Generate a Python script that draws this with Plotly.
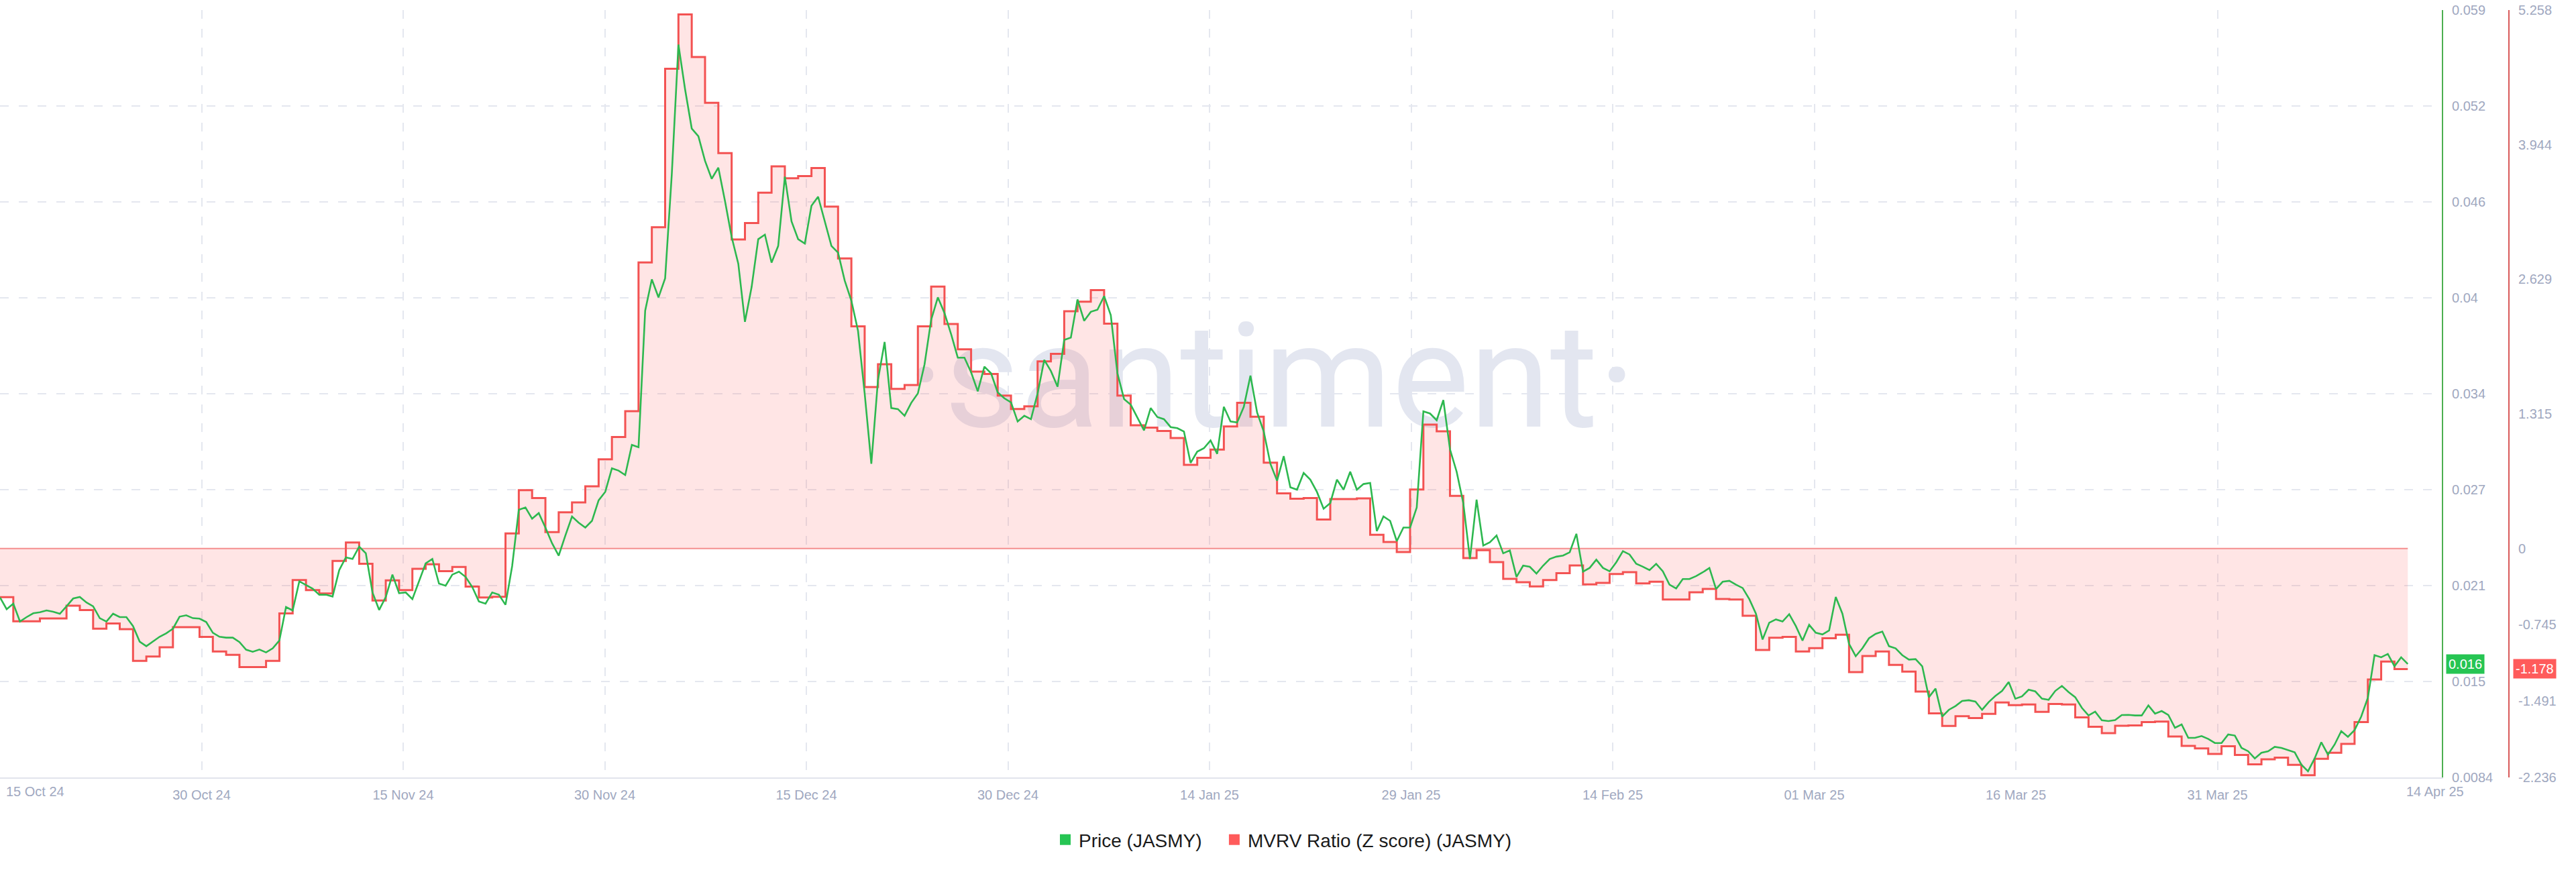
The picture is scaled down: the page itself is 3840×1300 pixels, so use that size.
import numpy as np
import pandas as pd
import plotly.graph_objects as go

# ---------------- data ----------------
START = "2024-10-15"
PRICE_STEP_HOURS = 12  # price sampled every 12 hours
MVRV_STEP_DAYS = 1     # MVRV z-score is daily

PRICE = [
    0.02022, 0.01945, 0.01981, 0.01864, 0.01893, 0.01918, 0.01925, 0.01937, 0.01928, 0.01915,
    0.01964, 0.02015, 0.02025, 0.01989, 0.01964, 0.01886, 0.01864, 0.01915, 0.01893, 0.01893,
    0.01834, 0.01732, 0.01702, 0.01732, 0.01764, 0.01787, 0.01817, 0.01896, 0.01905, 0.01886,
    0.01883, 0.01861, 0.01790, 0.01764, 0.01758, 0.01758, 0.01729, 0.01679, 0.01665, 0.01680,
    0.01661, 0.01688, 0.01739, 0.01959, 0.01937, 0.02128, 0.02103, 0.02080, 0.02040, 0.02040,
    0.02028, 0.02202, 0.02285, 0.02275, 0.02356, 0.02312, 0.02055, 0.01940, 0.02025, 0.02172,
    0.02050, 0.02055, 0.02011, 0.02128, 0.02246, 0.02275, 0.02113, 0.02099, 0.02172, 0.02191,
    0.02157, 0.02091, 0.01996, 0.01981, 0.02055, 0.02040, 0.01974, 0.02228, 0.02598, 0.02613,
    0.02539, 0.02576, 0.02481, 0.02378, 0.02297, 0.02429, 0.02554, 0.02513, 0.02481, 0.02525,
    0.02660, 0.02716, 0.02870, 0.02855, 0.02826, 0.03024, 0.03009, 0.03905, 0.04111, 0.03993,
    0.04118, 0.04801, 0.05653, 0.05359, 0.05102, 0.05051, 0.04889, 0.04772, 0.04845, 0.04625,
    0.04390, 0.04214, 0.03832, 0.04060, 0.04375, 0.04405, 0.04221, 0.04331, 0.04786, 0.04493,
    0.04375, 0.04346, 0.04595, 0.04654, 0.04493, 0.04331, 0.04287, 0.04103, 0.03971, 0.03773,
    0.03362, 0.02900, 0.03450, 0.03700, 0.03266, 0.03259, 0.03215, 0.03300, 0.03362, 0.03553,
    0.03846, 0.03993, 0.03890, 0.03751, 0.03597, 0.03597, 0.03501, 0.03376, 0.03538, 0.03494,
    0.03369, 0.03330, 0.03303, 0.03178, 0.03215, 0.03193, 0.03362, 0.03582, 0.03509, 0.03406,
    0.03714, 0.03729, 0.03979, 0.03839, 0.03898, 0.03912, 0.04001, 0.03876, 0.03494, 0.03325,
    0.03288, 0.03200, 0.03119, 0.03266, 0.03207, 0.03193, 0.03141, 0.03134, 0.03112, 0.02906,
    0.02980, 0.03002, 0.03053, 0.02965, 0.03274, 0.03178, 0.03171, 0.03274, 0.03479, 0.03237,
    0.03112, 0.02900, 0.02789, 0.02950, 0.02745, 0.02730, 0.02840, 0.02796, 0.02715, 0.02605,
    0.02642, 0.02796, 0.02730, 0.02848, 0.02730, 0.02767, 0.02774, 0.02458, 0.02554, 0.02525,
    0.02392, 0.02481, 0.02481, 0.02613, 0.03244, 0.03230, 0.03186, 0.03318, 0.02995, 0.02848,
    0.02642, 0.02275, 0.02664, 0.02363, 0.02385, 0.02429, 0.02312, 0.02331, 0.02157, 0.02231,
    0.02223, 0.02179, 0.02231, 0.02275, 0.02290, 0.02297, 0.02319, 0.02440, 0.02192, 0.02216,
    0.02270, 0.02216, 0.02194, 0.02253, 0.02326, 0.02304, 0.02243, 0.02224, 0.02202, 0.02243,
    0.02194, 0.02106, 0.02081, 0.02143, 0.02143, 0.02162, 0.02187, 0.02216, 0.02077, 0.02125,
    0.02131, 0.02106, 0.02084, 0.02011, 0.01915, 0.01746, 0.01856, 0.01878, 0.01864, 0.01912,
    0.01834, 0.01739, 0.01842, 0.01790, 0.01779, 0.01805, 0.02025, 0.01915, 0.01717, 0.01636,
    0.01688, 0.01754, 0.01783, 0.01798, 0.01702, 0.01688, 0.01643, 0.01614, 0.01617, 0.01570,
    0.01367, 0.01423, 0.01240, 0.01284, 0.01309, 0.01342, 0.01347, 0.01338, 0.01284, 0.01335,
    0.01375, 0.01408, 0.01467, 0.01357, 0.01372, 0.01416, 0.01405, 0.01357, 0.01350, 0.01408,
    0.01441, 0.01401, 0.01367, 0.01297, 0.01247, 0.01272, 0.01215, 0.01210, 0.01217, 0.01250,
    0.01251, 0.01247, 0.01247, 0.01313, 0.01259, 0.01276, 0.01250, 0.01166, 0.01188, 0.01100,
    0.01100, 0.01112, 0.01093, 0.01066, 0.01066, 0.01122, 0.01115, 0.01034, 0.01012, 0.00965,
    0.01002, 0.01012, 0.01041, 0.01034, 0.01019, 0.01005, 0.00924, 0.00880, 0.00965, 0.01071,
    0.00990, 0.01056, 0.01144, 0.01107, 0.01151, 0.01240, 0.01364, 0.01643, 0.01629, 0.01651,
    0.01570, 0.01629, 0.01585,
]

MVRV = [
    -0.476, -0.712, -0.712, -0.684, -0.684, -0.559, -0.602, -0.784, -0.733, -0.788,
    -1.098, -1.056, -0.965, -0.768, -0.768, -0.864, -1.006, -1.039, -1.159, -1.159,
    -1.098, -0.635, -0.308, -0.406, -0.439, -0.122, 0.059, -0.149, -0.509, -0.312,
    -0.406, -0.199, -0.155, -0.221, -0.181, -0.373, -0.478, -0.472, 0.146, 0.570,
    0.493, 0.160, 0.353, 0.450, 0.607, 0.871, 1.089, 1.340, 2.793, 3.137,
    4.685, 5.215, 4.800, 4.352, 3.861, 3.017, 3.178, 3.475, 3.731, 3.615,
    3.637, 3.715, 3.338, 2.832, 2.170, 1.576, 1.799, 1.559, 1.596, 2.170,
    2.557, 2.192, 1.945, 1.727, 1.705, 1.493, 1.362, 1.388, 1.827, 1.901,
    2.316, 2.410, 2.523, 2.195, 1.493, 1.203, 1.181, 1.148, 1.079, 0.817,
    0.886, 0.965, 1.192, 1.423, 1.286, 0.838, 0.539, 0.485, 0.493, 0.282,
    0.483, 0.483, 0.489, 0.133, 0.063, -0.035, 0.576, 1.209, 1.144, 0.514,
    -0.094, -0.017, -0.133, -0.297, -0.330, -0.370, -0.308, -0.242, -0.166, -0.351,
    -0.336, -0.249, -0.231, -0.341, -0.325, -0.498, -0.498, -0.428, -0.395, -0.493,
    -0.498, -0.657, -0.992, -0.871, -0.864, -1.006, -0.973, -0.876, -0.843, -1.207,
    -1.050, -1.006, -1.137, -1.202, -1.398, -1.611, -1.733, -1.639, -1.657, -1.616,
    -1.504, -1.530, -1.524, -1.596, -1.519, -1.524, -1.650, -1.742, -1.803, -1.732,
    -1.728, -1.695, -1.690, -1.836, -1.928, -1.952, -2.006, -1.931, -2.017, -2.109,
    -2.059, -2.043, -2.113, -2.214, -2.055, -1.996, -1.909, -1.695, -1.279, -1.105,
    -1.178,
]

X_TICK_LABELS = ["15 Oct 24", "30 Oct 24", "15 Nov 24", "30 Nov 24", "15 Dec 24", "30 Dec 24",
                 "14 Jan 25", "29 Jan 25", "14 Feb 25", "01 Mar 25", "16 Mar 25", "31 Mar 25"]
X_END_LABEL = "14 Apr 25"
PRICE_RANGE = [0.0084, 0.0588]
PRICE_TICK_LABELS = ["0.0084", "0.015", "0.021", "0.027", "0.034", "0.04", "0.046", "0.052", "0.059"]
MVRV_RANGE = [-2.236, 5.258]
MVRV_TICK_VALUES = [-2.236, -1.491, -0.745, 0, 1.315, 2.629, 3.944, 5.258]

NAME_PRICE = "Price (JASMY)"
NAME_MVRV = "MVRV Ratio (Z score) (JASMY)"
WATERMARK = "·santiment·"

# ---------------- layout constants ----------------
W, H = 3840, 1300
PLOT_TOP, PLOT_BOTTOM, PLOT_RIGHT = 15, 1159, 3640
MVRV_AXIS_X = 3740
PX_PER_DAY = 19.83
TICK_SPACING_PX = 300.5
LEGEND_PAD = "\u00a0\u00a0\u00a0"  # extra room between legend entries

GREEN = "#26C553"
GREEN_LINE = "#2DB84F"
GREEN_AXIS = "#4CAF50"
RED = "#FF5B5B"
RED_LINE = "#F35252"
RED_AXIS = "#D95A5A"
FILL = "rgba(255,91,91,0.16)"
ZERO_LINE = "rgba(240,110,110,0.75)"
GRID = "#E4E7EF"
TICK_COLOR = "#A0A8BF"
TICK_FONT = "Liberation Sans"

t0 = pd.Timestamp(START)
price_x = t0 + pd.to_timedelta(np.arange(len(PRICE)) * PRICE_STEP_HOURS, unit="h")
mvrv_x = t0 + pd.to_timedelta(np.arange(len(MVRV) + 1) * MVRV_STEP_DAYS, unit="D")
mvrv_y = MVRV + [MVRV[-1]]  # hold last daily value through its day
x_end = t0 + pd.Timedelta(days=PLOT_RIGHT / PX_PER_DAY)
tick_step = pd.Timedelta(days=TICK_SPACING_PX / PX_PER_DAY)
x_tickvals = [t0 + i * tick_step for i in range(len(X_TICK_LABELS))]
price_tickvals = list(np.linspace(PRICE_RANGE[0], PRICE_RANGE[1], len(PRICE_TICK_LABELS)))


def px_to_date(px):
    return t0 + pd.Timedelta(days=px / PX_PER_DAY)


def py_to_mvrv(py):
    return MVRV_RANGE[1] - (py - PLOT_TOP) / (PLOT_BOTTOM - PLOT_TOP) * (MVRV_RANGE[1] - MVRV_RANGE[0])


def py_to_paper(py):
    return (PLOT_BOTTOM - py) / (PLOT_BOTTOM - PLOT_TOP)


fig = go.Figure()

# watermark (drawn first, under everything)
fig.add_trace(go.Scatter(
    x=[px_to_date(1895)], y=[py_to_mvrv(581)],
    mode="text", text=[WATERMARK], textposition="middle center",
    textfont=dict(family="Roboto", size=218, color="#E3E6F0"),
    hoverinfo="skip", showlegend=False, yaxis="y",
))

# MVRV fill
fig.add_trace(go.Scatter(
    x=mvrv_x, y=mvrv_y, mode="lines", line=dict(width=0, shape="hv"),
    fill="tozeroy", fillcolor=FILL, hoverinfo="skip", showlegend=False, yaxis="y",
))
# zero baseline
fig.add_trace(go.Scatter(
    x=[mvrv_x[0], mvrv_x[-1]], y=[0, 0], mode="lines",
    line=dict(color=ZERO_LINE, width=2), hoverinfo="skip", showlegend=False, yaxis="y",
))
# MVRV line
fig.add_trace(go.Scatter(
    x=mvrv_x, y=mvrv_y, mode="lines", line=dict(color=RED_LINE, width=3, shape="hv"),
    name=NAME_MVRV, showlegend=False, yaxis="y",
))
# price line
fig.add_trace(go.Scatter(
    x=price_x, y=PRICE, mode="lines", line=dict(color=GREEN_LINE, width=2.6),
    name=NAME_PRICE, showlegend=False, yaxis="y2",
))

# legend entries
fig.add_trace(go.Scatter(x=[None], y=[None], mode="markers", yaxis="y2",
                         marker=dict(symbol="square", size=18, color=GREEN),
                         name=NAME_PRICE + LEGEND_PAD))
fig.add_trace(go.Scatter(x=[None], y=[None], mode="markers", yaxis="y",
                         marker=dict(symbol="square", size=18, color=RED), name=NAME_MVRV))

tickfont = dict(family=TICK_FONT, size=20, color=TICK_COLOR)

fig.update_layout(
    width=W, height=H,
    margin=dict(l=0, r=0, t=PLOT_TOP, b=H - PLOT_BOTTOM, pad=0),
    paper_bgcolor="white", plot_bgcolor="white",
    showlegend=True,
    hovermode=False,
    xaxis=dict(
        type="date", domain=[0, PLOT_RIGHT / W], range=[t0, x_end],
        tickvals=x_tickvals, ticktext=[""] + X_TICK_LABELS[1:],
        showgrid=True, gridcolor=GRID, gridwidth=2, griddash="13px,15px",
        showline=True, linecolor="#E1E4EC", linewidth=2,
        ticks="outside", ticklen=7, tickcolor="rgba(0,0,0,0)",
        tickfont=tickfont, zeroline=False,
    ),
    yaxis=dict(
        range=MVRV_RANGE, tickvals=MVRV_TICK_VALUES,
        ticktext=[f"{v:g}" for v in MVRV_TICK_VALUES],
        side="right", anchor="free", position=MVRV_AXIS_X / W,
        showgrid=False, zeroline=False,
        showline=True, linecolor=RED_AXIS, linewidth=2,
        ticks="outside", ticklen=9, tickcolor="rgba(0,0,0,0)", tickfont=tickfont,
    ),
    yaxis2=dict(
        range=PRICE_RANGE, overlaying="y", side="right", anchor="x",
        tickvals=price_tickvals, ticktext=PRICE_TICK_LABELS,
        showgrid=True, gridcolor=GRID, gridwidth=2, griddash="13px,15px",
        zeroline=False, showline=True, linecolor=GREEN_AXIS, linewidth=2,
        ticks="outside", ticklen=9, tickcolor="rgba(0,0,0,0)", tickfont=tickfont,
    ),
    legend=dict(
        orientation="h", x=1568 / W, xanchor="left",
        y=-(1252 - PLOT_BOTTOM) / (PLOT_BOTTOM - PLOT_TOP), yanchor="middle",
        font=dict(family=TICK_FONT, size=28, color="#1A1A1A"),
        bgcolor="rgba(0,0,0,0)",
    ),
    annotations=[
        dict(text=X_TICK_LABELS[0], x=52 / W, y=py_to_paper(1180), xref="paper", yref="paper",
             showarrow=False, font=tickfont, xanchor="center", yanchor="middle"),
        dict(text=X_END_LABEL, x=3630 / W, y=py_to_paper(1180), xref="paper", yref="paper",
             showarrow=False, font=tickfont, xanchor="center", yanchor="middle"),
        dict(text=f"{PRICE[-1]:.3f}", x=3646 / W, y=PRICE[-1], xref="paper", yref="y2",
             showarrow=False, xanchor="left", yanchor="middle", bgcolor=GREEN, borderpad=3,
             font=dict(family=TICK_FONT, size=20, color="white")),
        dict(text=f"{MVRV[-1]:.3f}", x=3746 / W, y=MVRV[-1], xref="paper", yref="y",
             showarrow=False, xanchor="left", yanchor="middle", bgcolor=RED, borderpad=3,
             font=dict(family=TICK_FONT, size=20, color="white")),
    ],
)

fig.write_html(
    "out.html",
    config={"displayModeBar": False, "staticPlot": False},
    post_script="document.body.style.margin='0px';document.body.style.padding='0px';",
)
